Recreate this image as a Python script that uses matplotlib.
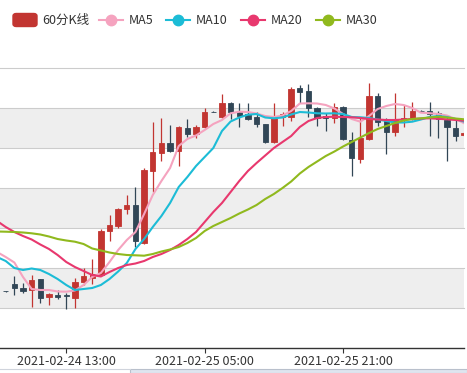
import matplotlib.pyplot as plt
import numpy as np
import pandas as pd
from matplotlib.patches import FancyBboxPatch, Rectangle
from matplotlib.lines import Line2D

plt.rcParams['font.family'] = ['Noto Sans CJK SC', 'DejaVu Sans']

# 60分K线, 从 2021-02-24 06:00 开始, 每小时一根
times = pd.date_range('2021-02-24 06:00', periods=54, freq='h')
opens = [57, 63.7, 60.3, 58, 68.7, 50.7, 53, 52.7, 49.7, 65.7,
         70.3, 73, 117, 122, 138.7, 143, 105.3, 177.3, 195.3, 204.7,
         197, 220.3, 214, 220.7, 236.3, 231.3, 244.7, 236.3, 233.7, 231.3,
         223.7, 205.7, 230.7, 231.3, 259.7, 257.3, 240.3, 232, 229.7, 241.3,
         208, 189, 209, 252.3, 227, 216.3, 229, 228.7, 237.3, 237.3,
         234.7, 228, 220.3, 213]
closes = [57, 59.7, 57, 68, 50.3, 53.7, 51.3, 52, 65.7, 72,
          73.7, 117, 123, 138.7, 143, 107.3, 178, 195.7, 204.7, 197,
          221.3, 214, 221.3, 236.3, 236.3, 244.7, 236.3, 232.3, 229, 223.7,
          205.7, 231.3, 233.7, 259, 256.3, 240.3, 229.7, 230.5, 240.7, 208.7,
          189.7, 210.3, 252.3, 226.3, 216.3, 228.7, 230, 237.3, 237.3, 234,
          228.7, 220.7, 212.3, 215]
highs = [57.5, 72, 65.3, 73, 69, 54.7, 58, 54.7, 69.7, 79.7,
         88.7, 118.7, 133, 140, 153, 161.3, 179.7, 226.3, 229.7, 223,
         222.5, 228.7, 223, 239.7, 236.8, 254, 246.3, 245.3, 244.7, 236.3,
         224.2, 245.3, 236.3, 260.7, 263, 263.7, 241, 234.7, 245.3, 242,
         216.3, 229.7, 264.7, 254.7, 229.7, 255.3, 243, 246.3, 237.6, 246.3,
         237.3, 232, 229.7, 216]
lows = [56.5, 53, 55.3, 41.3, 44.7, 43, 48.7, 38.7, 39.7, 63,
        64, 72, 107, 120, 134, 101.3, 104.5, 156, 187.3, 196,
        182.3, 211.3, 209.7, 220, 235.8, 230.5, 229, 220.7, 228.5, 221.3,
        205.2, 205.2, 222.3, 227, 244.7, 231.3, 222.3, 217.3, 224.7, 208,
        172.3, 185.3, 208.5, 222, 193.7, 212, 221.3, 228, 237, 212.3,
        209.7, 187, 207.3, 212]

# 均线, 第一个值属于画面左边外的前一根K线
ma5 = [96, 91, 85.5, 71, 59, 58, 58, 56.5, 56.3, 57.5, 63, 71, 75, 86,
       98, 108, 116, 134, 153, 167, 180, 202, 209, 212.5, 218, 224, 228,
       234.7, 236.3, 236, 234.5, 232, 231, 232.5, 237, 244.5, 244.7, 244.5,
       243, 239.5, 234, 229, 226.3, 232, 239, 242, 244, 243, 240, 235.3,
       234.8, 234, 232.5, 229, 224.7]
ma10 = [91, 87, 80, 78, 79.5, 78, 74, 69, 63, 58, 59, 60, 63, 69, 76.5,
        85, 99, 109, 121, 132, 145, 161, 171, 182, 191, 200, 217, 226.5,
        230.5, 233.3, 234, 230.5, 229.7, 230.5, 233.5, 236, 235.5, 234.7,
        234.5, 234.7, 234, 231, 230.7, 230, 228.5, 227, 225.5, 225.5, 226.3,
        228.5, 231, 232, 231, 229, 226.3]
ma20 = [127, 121, 116, 112, 108.5, 103.5, 99, 93, 86, 81, 77, 73, 71.5,
        76, 80, 83, 84.5, 87, 91, 94, 98, 103, 109, 116, 126, 136, 145,
        156, 167, 177, 185, 192.5, 200, 206, 212, 221, 227, 230, 231, 231.3,
        231, 230.7, 230, 229, 228.5, 228, 228, 228.5, 229, 229.5, 229.7,
        229.2, 228.7, 228, 227.3]
ma30 = [116.5, 116.3, 116, 115.5, 114.7, 113.5, 111.5, 109, 107.5, 106.3,
        104, 99.5, 97.5, 95.5, 94, 93, 92.7, 92.3, 94, 96.5, 98.5, 101, 105,
        110, 117, 122, 126, 130, 134.5, 138.5, 143, 149, 154, 160, 166.5,
        174.5, 181, 186.5, 192, 196.5, 201.5, 206, 210.5, 215, 219, 222, 225,
        227.5, 229, 229.7, 230.5, 231.3, 230.5, 229.5, 228.7]

tick_labels = ['2021-02-24 13:00', '2021-02-25 05:00', '2021-02-25 21:00']

RED = '#c23531'
DARK = '#314656'
ma_names = ['MA5', 'MA10', 'MA20', 'MA30']
ma_colors = ['#f5a3bf', '#1cbcd6', '#e8386e', '#90b91e']

W, H = 467, 373
fig = plt.figure(figsize=(W / 100, H / 100), dpi=100)
ax = fig.add_axes([0, 25 / H, 464 / W, 280 / H])

n = len(opens)
x = np.arange(n)
o = np.array(opens)
c = np.array(closes)
up = c > o
cols = np.where(up, RED, DARK)

# 背景条纹 + 网格
for lo in (40, 120, 200):
    ax.axhspan(lo, lo + 40, color='#eeeeee', lw=0, zorder=0)
for g in range(40, 281, 40):
    ax.axhline(g, color='#cccccc', lw=0.8, zorder=1, clip_on=False)

# K线
ax.vlines(x, lows, highs, colors=cols, lw=0.9, zorder=3)
ax.bar(x, np.abs(c - o), 0.62, bottom=np.minimum(o, c), color=cols,
       edgecolor=cols, lw=0.6, zorder=4)

# 均线
xm = np.arange(-1, n)
for vals, col in zip([ma5, ma10, ma20, ma30], ma_colors):
    ax.plot(xm, vals, color=col, lw=1.5, zorder=5, solid_joinstyle='round')

ax.set_xlim(-0.66, 52.98)
ax.set_ylim(0, 280)
for s in ('top', 'left', 'right'):
    ax.spines[s].set_visible(False)
ax.spines['bottom'].set_color('#333333')
ax.spines['bottom'].set_linewidth(1)
ax.set_yticks([])
labels = list(times.strftime('%Y-%m-%d %H:%M'))
ax.set_xticks([labels.index(t) for t in tick_labels])
ax.set_xticklabels(tick_labels, fontsize=9, color='#333333')
ax.tick_params(axis='x', length=3.5, width=0.8, color='#333333', pad=1.5)


def fx(px):
    return px / W


def fy(py):
    return 1 - py / H


# 图例
fig.add_artist(FancyBboxPatch((fx(13), fy(26.5)), fx(24), 13 / H,
                              boxstyle='round,pad=0,rounding_size=0.007',
                              transform=fig.transFigure, color=RED))
fig.text(fx(42), fy(20), '60分K线', fontsize=9, color='#333333', va='center')
leg_x = [99, 166, 241, 316]
for lx, name, col in zip(leg_x, ma_names, ma_colors):
    fig.add_artist(Line2D([fx(lx), fx(lx + 24)], [fy(20), fy(20)],
                          transform=fig.transFigure, color=col, lw=1.5))
    fig.add_artist(Line2D([fx(lx + 12)], [fy(20)], transform=fig.transFigure,
                          marker='o', markersize=7.5, color=col, lw=0))
    fig.text(fx(lx + 30), fy(20), name, fontsize=9, color='#333333',
             va='center')

# 底部滑块的边
fig.add_artist(Line2D([0, fx(129.5)], [fy(369), fy(369)],
                      transform=fig.transFigure, color='#d0d4dc', lw=0.8))
fig.add_artist(Rectangle((fx(129.5), 0), fx(337), 4.5 / H,
                         transform=fig.transFigure, facecolor='#dfe5ef',
                         edgecolor='#b9c0cc', lw=0.8))

fig.savefig('out.png', dpi=100)
